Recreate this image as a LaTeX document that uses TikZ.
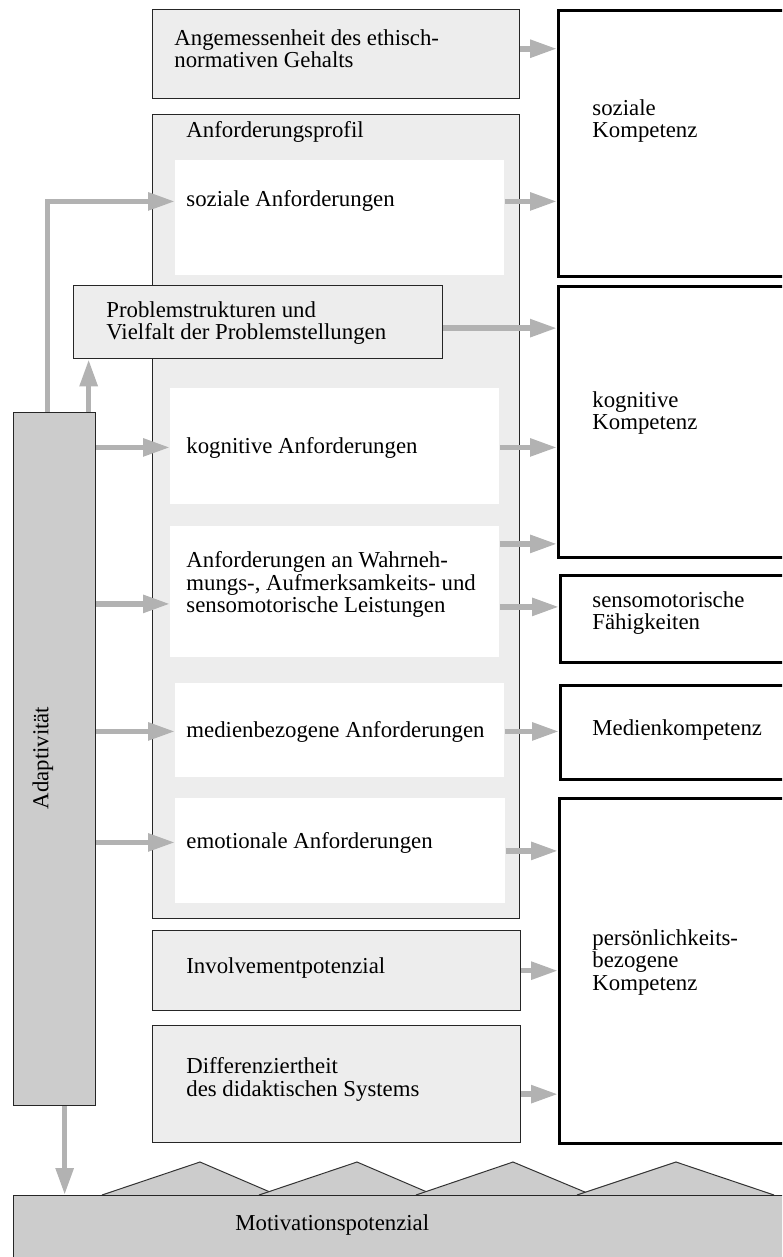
\documentclass[tikz,border=0pt]{standalone}
\usepackage{fontspec}
\setmainfont{Liberation Serif}
\usetikzlibrary{arrows.meta}

\begin{document}
\begin{tikzpicture}[x=0.5pt,y=-0.5pt,
        lightbox/.style={rectangle,draw=black!85,line width=0.65pt,fill=black!7,anchor=north west,inner sep=0},
        whitebox/.style={rectangle,fill=white,anchor=north west,inner sep=0},
        darkbox/.style={rectangle,draw=black!85,line width=0.65pt,fill=black!20,anchor=north west,inner sep=0},
        compbox/.style={rectangle,draw=black,line width=1.6pt,fill=white,anchor=north west,inner sep=0},
        txt/.style={inner sep=0,anchor=base west,align=left,font=\fontsize{11.4}{11.3}\selectfont},
        txtm/.style={txt,anchor=north west},
        arr/.style={line width=2.8pt,draw=black!30,-{Triangle[length=13.5pt,width=8.5pt]}}
        ]
        \useasboundingbox (0,0) rectangle (782,1257);
        \clip (0,0) rectangle (782,1257);
        % Anforderungen
        \node (ethik) [lightbox,minimum width=183.5pt,minimum height=44.5pt] at (152,9) {};
        \node (ethikT) [txtm] at (174,29) {Angemessenheit des ethisch-\\normativen Gehalts};
        \node (profil) [lightbox,minimum width=183.5pt,minimum height=402pt] at (152,114) {};
        \node (profilT) [txt] at (186,138) {Anforderungsprofil};
        \node (sozA) [whitebox,minimum width=164.5pt,minimum height=57.5pt] at (175,160) {};
        \node (sozAT) [txt] at (186,207) {soziale Anforderungen};
        \node (kogA) [whitebox,minimum width=164.5pt,minimum height=58pt] at (170,388) {};
        \node (kogAT) [txt] at (186,453) {kognitive Anforderungen};
        \node (wahrA) [whitebox,minimum width=164.5pt,minimum height=65.5pt] at (170,526) {};
        \node (wahrAT) [txtm] at (186,551) {Anforderungen an Wahrneh-\\mungs-, Aufmerksamkeits- und\\sensomotorische Leistungen};
        \node (medA) [whitebox,minimum width=164.5pt,minimum height=47pt] at (175,683) {};
        \node (medAT) [txt] at (186,737) {medienbezogene Anforderungen};
        \node (emoA) [whitebox,minimum width=165pt,minimum height=52.5pt] at (175,798) {};
        \node (emoAT) [txt] at (186,848) {emotionale Anforderungen};
        \node (problem) [lightbox,minimum width=184.5pt,minimum height=36.5pt] at (73,285) {};
        \node (problemT) [txtm] at (106,301) {Problemstrukturen und\\Vielfalt der Problemstellungen};
        \node (invol) [lightbox,minimum width=184pt,minimum height=40pt] at (152,930) {};
        \node (involT) [txt] at (186,973) {Involvementpotenzial};
        \node (diff) [lightbox,minimum width=184pt,minimum height=58.5pt] at (152,1025) {};
        \node (diffT) [txtm] at (186,1057) {Differenziertheit\\des didaktischen Systems};
        \node (adapt) [darkbox,minimum width=41pt,minimum height=346.5pt] at (13,412) {};
        \node (adaptT) [txt,anchor=center,rotate=90] at (43,758) {Adaptivität};
        % Kompetenzen
        \node (sozK) [compbox,minimum width=130pt,minimum height=133pt] at (557,9) {};
        \node (sozKT) [txtm] at (592,99) {soziale\\Kompetenz};
        \node (kogK) [compbox,minimum width=130pt,minimum height=135.5pt] at (557,285) {};
        \node (kogKT) [txtm] at (592,391) {kognitive\\Kompetenz};
        \node (sensK) [compbox,minimum width=130pt,minimum height=43.5pt] at (559,574) {};
        \node (sensKT) [txtm] at (592,591) {sensomotorische\\Fähigkeiten};
        \node (medK) [compbox,minimum width=130pt,minimum height=47pt] at (559,684) {};
        \node (medKT) [txt] at (592,735) {Medienkompetenz};
        \node (persK) [compbox,minimum width=130pt,minimum height=172.5pt] at (558,797) {};
        \node (persKT) [txtm] at (592,929) {persönlichkeits-\\bezogene\\Kompetenz};
        % Motivationspotenzial
        \filldraw[fill=black!20,draw=black!80,line width=0.5pt] (102,1195) -- (200,1162) -- (277,1195);
        \filldraw[fill=black!20,draw=black!80,line width=0.5pt] (259,1195) -- (357,1162) -- (434,1195);
        \filldraw[fill=black!20,draw=black!80,line width=0.5pt] (416,1195) -- (513,1162) -- (592,1195);
        \filldraw[fill=black!20,draw=black!80,line width=0.5pt] (577,1195) -- (676,1162) -- (774,1195);
        \node (motiv) [darkbox,minimum width=400pt,minimum height=60pt] at (13,1195) {};
        \node (motivT) [txt] at (235,1230) {Motivationspotenzial};
        % Pfeile
        \draw[arr] (ethik.east |- ethikT) -- (sozK.west |- ethikT);
        \draw[arr] ([xshift=-3.5pt]adapt.north) |- (sozA.west |- sozAT);
        \draw[arr] ([xshift=17pt]adapt.north) -- ([xshift=17pt]adapt.north |- problem.south);
        \draw[arr] (sozA.east |- sozAT) -- (sozK.west |- sozAT);
        \draw[arr] ([yshift=-3pt]problem.east) -- ([yshift=-3pt]problem.east -| kogK.west);
        \draw[arr] (adapt.east |- kogAT) -- (kogA.west |- kogAT);
        \draw[arr] (kogA.east |- kogAT) -- (kogK.west |- kogAT);
        \draw[arr] ([yshift=-6pt]adapt.east |- wahrA.west) -- ([yshift=-6pt]wahrA.west);
        \draw[arr] ([yshift=24pt]wahrA.east) -- ([yshift=24pt]wahrA.east -| kogK.west);
        \draw[arr] ([yshift=-7.5pt]wahrA.east) -- ([yshift=-7.5pt]wahrA.east -| sensK.west);
        \draw[arr] (adapt.east |- medAT) -- (medA.west |- medAT);
        \draw[arr] (medA.east |- medAT) -- (medK.west |- medAT);
        \draw[arr] (adapt.east |- emoAT) -- (emoA.west |- emoAT);
        \draw[arr] (emoA.east) -- (emoA.east -| persK.west);
        \draw[arr] (invol.east) -- (invol.east -| persK.west);
        \draw[arr] ([yshift=-5pt]diff.east) -- ([yshift=-5pt]diff.east -| persK.west);
        \draw[arr] ([xshift=5pt]adapt.south) -- ([xshift=5pt]adapt.south |- motiv.north);
\end{tikzpicture}
\end{document}
